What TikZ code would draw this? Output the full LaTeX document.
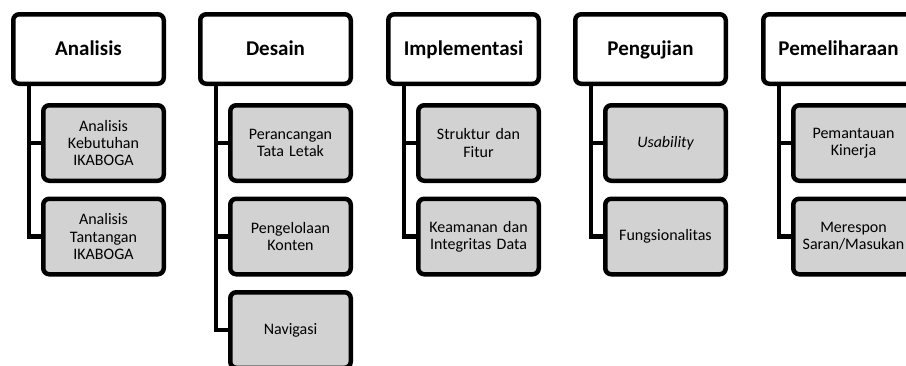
\documentclass[tikz,border=0pt]{standalone}
\usepackage{fontspec}
\setmainfont{Carlito}
\definecolor{boxgray}{RGB}{210,210,210}
\pgfdeclarelayer{bg}
\pgfsetlayers{bg,main}
\tikzset{
  phase/.style={draw=black, line width=4.5pt, rounded corners=6pt, fill=white,
    minimum width=150.5pt, minimum height=69.5pt, inner sep=0pt,
    text height=13.5pt, text depth=0pt,
    font=\fontsize{21}{25}\selectfont\bfseries, anchor=center},
  task/.style={draw=black, line width=4.5pt, rounded corners=6pt, fill=boxgray,
    minimum width=120.5pt, minimum height=75.5pt, inner sep=0pt, text width=118pt,
    align=center, font=\fontsize{16}{17.2}\selectfont, anchor=center},
  spine/.style={line width=4.5pt, line cap=rect}
}
\begin{document}
\begin{tikzpicture}[x=1pt,y=-1pt]
\useasboundingbox (0,0) rectangle (906,365);
\begin{scope}
\clip (0,0) rectangle (906,365);
% columns: left edges 11,198,386,573,761
\foreach \L/\n/\t in {11/a/Analisis,198/d/Desain,386/i/Implementasi,573/p/Pengujian,761/m/Pemeliharaan}{
  \node[phase] (\n) at (\L+77.5,49) {\t};
}
% Analisis
\node[task] (a1) at (11+92.5,143) {Analisis\\Kebutuhan\\IKABOGA};
\node[task] (a2) at (11+92.5,236.5) {Analisis\\Tantangan\\IKABOGA};
% Desain
\node[task] (d1) at (198+92.5,143) {Perancangan\\Tata Letak};
\node[task] (d2) at (198+92.5,236.5) {Pengelolaan\\Konten};
\node[task] (d3) at (198+92.5,330) {Navigasi};
% Implementasi
\node[task] (i1) at (386+92.5,143) {Struktur dan\\Fitur};
\node[task] (i2) at (386+92.5,236.5) {Keamanan dan\\Integritas Data};
% Pengujian
\node[task] (p1) at (573+92.5,143) {\itshape Usability};
\node[task] (p2) at (573+92.5,236.5) {Fungsionalitas};
% Pemeliharaan
\node[task] (m1) at (761+92.5,143) {Pemantauan\\Kinerja};
\node[task] (m2) at (761+92.5,236.5) {Merespon\\Saran/Masukan};
% connectors
\begin{pgfonlayer}{bg}
\foreach \n/\last/\list in {a/a2/{a1},d/d3/{d1,d2},i/i2/{i1},p/p2/{p1},m/m2/{m1}}{
  \draw[spine] ([xshift=18pt]\n.south west) |- (\last.west);
  \foreach \c in \list {
    \draw[spine] ([xshift=18pt]\n.south west) |- (\c.west);
  }
}
\end{pgfonlayer}
\end{scope}
\end{tikzpicture}
\end{document}
